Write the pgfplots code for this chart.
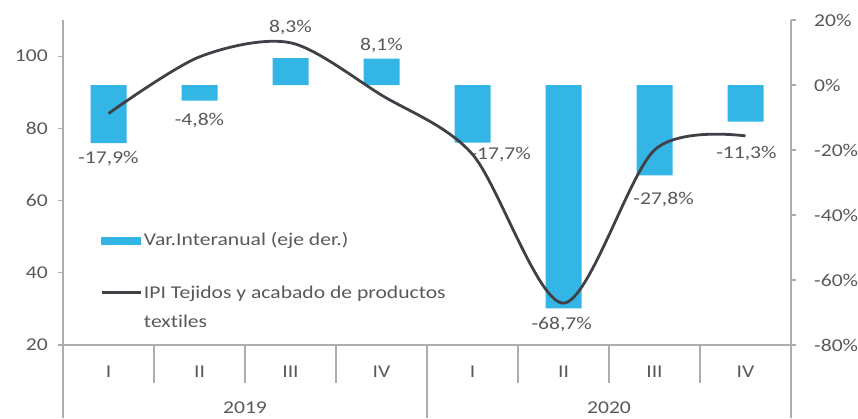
\documentclass[border=0pt]{standalone}
\usepackage{pgfplots}
\pgfplotsset{compat=1.18}
\usepackage{fontspec}
\setmainfont{Carlito}[FakeStretch=1.2, Ligatures=NoCommon]
\definecolor{barblue}{HTML}{33B5E6}
\definecolor{linegray}{HTML}{404046}
\definecolor{axgray}{HTML}{ADADAD}
\definecolor{txtgray}{HTML}{595959}
\begin{document}
\fontsize{18pt}{21.5pt}\selectfont
\begin{tikzpicture}
\path[use as bounding box] (0,0) rectangle (858pt,418pt);
\pgfplotsset{
  common/.style={
    at={(63pt,73pt)}, anchor=south west,
    scale only axis, width=728pt, height=325pt,
    xmin=0.5, xmax=8.5,
    axis line style={axgray, line width=1.2pt},
    tick style={axgray, line width=1.2pt},
    tick align=outside,
    major tick length=5pt,
    ticklabel style={text=txtgray},
    clip=false,
  }
}
% bars (right axis)
\begin{axis}[common,
  axis y line*=right, axis x line=none,
  ymin=-80, ymax=20,
  ytick={-80,-60,-40,-20,0,20},
  yticklabels={-80\%,-60\%,-40\%,-20\%,0\%,20\%},
  yticklabel style={anchor=west, xshift=12pt},
  xtick=\empty,
]
\addplot[ybar, bar width=36pt, fill=barblue, draw=none] coordinates {
  (1,-17.9) (2,-4.8) (3,8.3) (4,8.1) (5,-17.7) (6,-68.7) (7,-27.8) (8,-11.3)};
\begin{scope}[every node/.style={text=txtgray, anchor=center}]
\node at (axis cs:1,-22.5) {-17,9\%};
\node at (axis cs:2,-11.0) {-4,8\%};
\node at (axis cs:3,17.8) {8,3\%};
\node at (axis cs:4,12.3) {8,1\%};
\node at (axis cs:5.31,-21.5) {-17,7\%};
\node at (axis cs:5.98,-73.8) {-68,7\%};
\node at (axis cs:7.1,-35.1) {-27,8\%};
\node at (axis cs:8.01,-21.2) {-11,3\%};
\end{scope}
\end{axis}
% line (left axis)
\begin{axis}[common,
  axis y line*=left, axis x line=none,
  ymin=20, ymax=110,
  ytick={20,40,60,80,100},
  yticklabels={20,40,60,80,100},
  yticklabel style={anchor=east, xshift=-4pt},
  xtick=\empty,
  legend style={at={(0.0508,0.352)}, anchor=north west, draw=none, fill=none,
    inner sep=0pt, row sep=31pt, text=txtgray},
  legend cell align=left,
]
\addlegendimage{legend image code/.code={\fill[barblue] (0pt,-3.5pt) rectangle (39pt,3.5pt);}}
\addlegendentry{Var.Interanual (eje der.)}
\addplot[smooth, tension=0.5, linegray, line width=2.8pt,
  legend image code/.code={\draw[linegray, line width=2.8pt] (0pt,0pt) -- (39pt,0pt);}]
  coordinates {(1,84.1) (2,99.8) (3,103.7) (4,89.2) (5,72.8) (6,31.6) (7,74) (8,77.9)};
\addlegendentry{\begin{tabular}[t]{@{}l@{}}IPI Tejidos y acabado de productos\\[7pt]textiles\end{tabular}}
\end{axis}
% separators
\begin{axis}[common,
  axis y line=none, axis x line*=bottom,
  ymin=0, ymax=1,
  xtick={1.5,2.5,3.5,5.5,6.5,7.5}, xticklabels={},
  major tick length=38pt,
  minor xtick={0.5,4.5,8.5},
  minor tick length=73pt,
]
\end{axis}
% category labels and years
\begin{axis}[common,
  axis y line=none, axis x line*=bottom,
  ymin=0, ymax=1,
  xtick={1,...,8}, xticklabels={I,II,III,IV,I,II,III,IV},
  major tick length=0pt,
  xticklabel style={yshift=-15pt},
]
\node[text=txtgray] at (axis cs:2.5,0) [yshift=-63pt] {2019};
\node[text=txtgray] at (axis cs:6.5,0) [yshift=-63pt] {2020};
\end{axis}
\end{tikzpicture}
\end{document}
